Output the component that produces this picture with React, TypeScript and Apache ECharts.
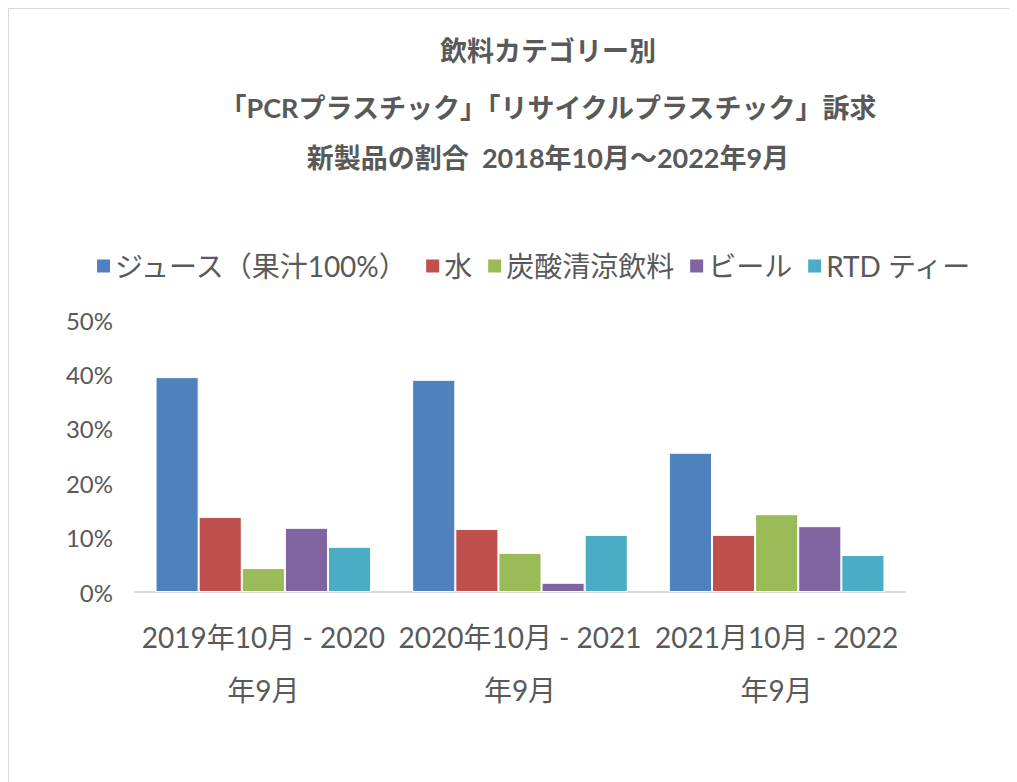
import React, { useEffect, useRef } from "react";
import * as echarts from "echarts";

const categories = ["2019年10月 - 2020\n年9月", "2020年10月 - 2021\n年9月", "2021月10月 - 2022\n年9月"];
const seriesNames = ["ジュース（果汁100%）", "水", "炭酸清涼飲料", "ビール", "RTD ティー"];
const juice = [39.5, 39.0, 25.6];
const water = [13.8, 11.6, 10.5];
const carbonated = [4.4, 7.2, 14.3];
const beer = [11.8, 1.7, 12.1];
const rtdTea = [8.3, 10.5, 6.8];
const colors = ["#4F81BD", "#C0504D", "#9BBB59", "#8064A2", "#4BACC6"];
const titleLines = [
  "飲料カテゴリー別",
  "「PCRプラスチック」「リサイクルプラスチック」訴求",
  "新製品の割合  2018年10月～2022年9月",
];

const FONT = "Lato, 'Noto Sans CJK JP', sans-serif";

export default function App() {
  const ref = useRef<HTMLDivElement>(null);
  useEffect(() => {
    if (!ref.current) return;
    const chart = echarts.init(ref.current, null, { renderer: "svg" });
    const values = [juice, water, carbonated, beer, rtdTea];
    chart.setOption({
      animation: false,
      textStyle: { fontFamily: FONT },
      graphic: titleLines.map((t, i) => ({
        type: "text",
        x: 540,
        y: [42, 99, 149][i],
        style: {
          text: t,
          fill: "#595959",
          font: `bold 27px ${FONT}`,
          textAlign: "center",
          textVerticalAlign: "middle",
        },
      })),
      legend: {
        left: 82,
        top: 239,
        itemWidth: 15,
        itemHeight: 15,
        itemGap: 14,
        icon: "rect",
        textStyle: { fontSize: 28, color: "#595959", fontFamily: FONT, padding: [0, 0, 0, -1] },
        data: seriesNames,
      },
      grid: { left: 127, right: 112, top: 312, bottom: 190, containLabel: false },
      xAxis: {
        type: "category",
        data: categories,
        axisLine: { lineStyle: { color: "#d9d9d9", width: 2 } },
        axisTick: { show: false },
        axisLabel: {
          fontSize: 28,
          color: "#595959",
          lineHeight: 53,
          margin: 18,
          interval: 0,
          fontFamily: FONT,
        },
      },
      yAxis: {
        type: "value",
        min: 0,
        max: 50,
        interval: 10,
        axisLine: { show: false },
        axisTick: { show: false },
        splitLine: { show: false },
        axisLabel: {
          formatter: "{value}%",
          fontSize: 24,
          color: "#595959",
          margin: 22,
          fontFamily: FONT,
        },
      },
      series: seriesNames.map((name, i) => ({
        name,
        type: "bar",
        data: values[i],
        barGap: "0%",
        barCategoryGap: "16%",
        itemStyle: { color: colors[i], borderColor: "#ffffff", borderWidth: 1 },
      })),
    });
    return () => chart.dispose();
  }, []);
  return (
    <div
      style={{
        width: 1009,
        height: 774,
        boxSizing: "border-box",
        borderLeft: "1px solid #d9d9d9",
        borderTop: "1px solid #d9d9d9",
        position: "relative",
      }}
    >
      <div ref={ref} style={{ width: 1009, height: 774, position: "absolute", left: -1, top: -1 }} />
    </div>
  );
}
